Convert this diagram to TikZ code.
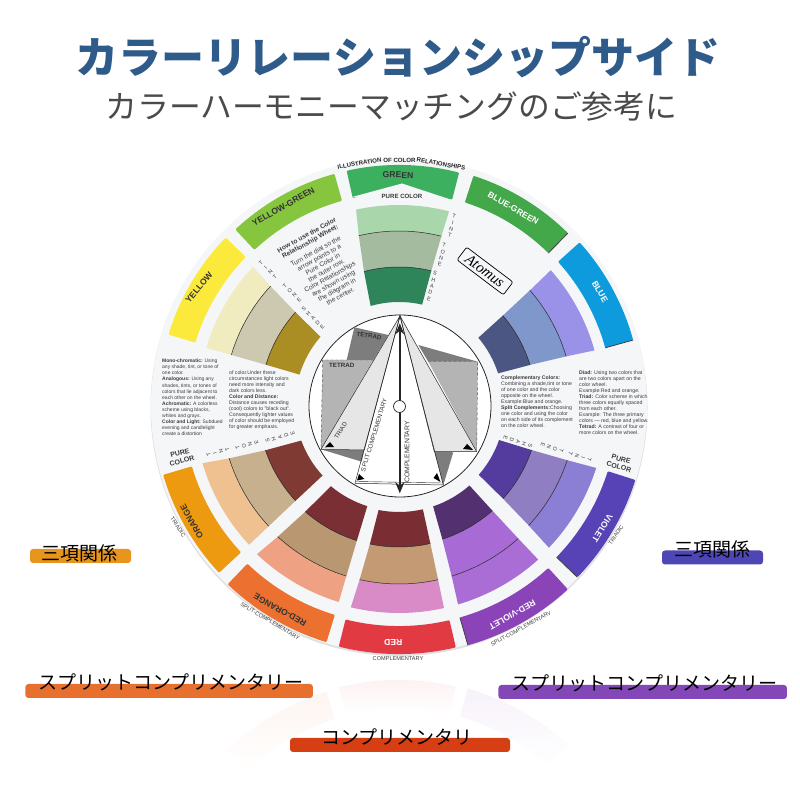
\documentclass[tikz,border=0pt]{standalone}
\usepackage{fontspec}
\setmainfont{Liberation Sans}
\newfontfamily\jpfont{Noto Sans CJK JP}
\newfontfamily\logofont{Liberation Serif}
\definecolor{titleblue}{RGB}{47, 91, 138}
\definecolor{titlegray}{RGB}{74, 74, 74}
\definecolor{disc}{RGB}{245, 246, 248}
\definecolor{discedge}{RGB}{222, 224, 228}
\definecolor{captext}{RGB}{60, 60, 60}
\definecolor{bgreen}{RGB}{61, 176, 96}
\definecolor{bbluegreen}{RGB}{67, 168, 74}
\definecolor{bblue}{RGB}{14, 155, 221}
\definecolor{byellowgreen}{RGB}{134, 198, 63}
\definecolor{byellow}{RGB}{251, 234, 60}
\definecolor{borange}{RGB}{238, 154, 16}
\definecolor{bredorange}{RGB}{236, 112, 48}
\definecolor{bred}{RGB}{226, 58, 66}
\definecolor{bredviolet}{RGB}{139, 67, 184}
\definecolor{bviolet}{RGB}{87, 67, 181}
\definecolor{gtint}{RGB}{169, 215, 171}
\definecolor{gtone}{RGB}{164, 187, 160}
\definecolor{gshade}{RGB}{47, 133, 90}
\definecolor{ytint}{RGB}{240, 236, 192}
\definecolor{ytone}{RGB}{204, 201, 176}
\definecolor{yshade}{RGB}{170, 142, 36}
\definecolor{btint}{RGB}{154, 146, 232}
\definecolor{btone}{RGB}{127, 151, 203}
\definecolor{bshade}{RGB}{76, 86, 130}
\definecolor{vtint}{RGB}{138, 127, 212}
\definecolor{vtone}{RGB}{143, 126, 194}
\definecolor{vshade}{RGB}{84, 60, 158}
\definecolor{rvtint}{RGB}{169, 109, 213}
\definecolor{rvtone}{RGB}{168, 107, 214}
\definecolor{rvshade}{RGB}{83, 48, 112}
\definecolor{rtint}{RGB}{216, 139, 198}
\definecolor{rtone}{RGB}{196, 154, 117}
\definecolor{rshade}{RGB}{122, 46, 51}
\definecolor{rotint}{RGB}{239, 162, 131}
\definecolor{rotone}{RGB}{185, 152, 113}
\definecolor{roshade}{RGB}{122, 47, 52}
\definecolor{otint}{RGB}{239, 193, 144}
\definecolor{otone}{RGB}{199, 176, 141}
\definecolor{oshade}{RGB}{127, 58, 51}
\definecolor{blade}{RGB}{230, 230, 230}
\definecolor{darkgray}{RGB}{125, 125, 125}
\definecolor{midgray}{RGB}{180, 180, 180}
\definecolor{pillorange}{RGB}{232, 149, 30}
\definecolor{pillblue}{RGB}{79, 70, 181}
\definecolor{pillred}{RGB}{232, 112, 47}
\definecolor{pillpurple}{RGB}{132, 71, 184}
\definecolor{pillcrimson}{RGB}{214, 63, 20}
\usetikzlibrary{arrows.meta,positioning}
\tikzset{
  bandlabel/.style={font=\fontsize{8.6}{10}\selectfont\bfseries, inner sep=0pt},
  outerlabel/.style={font=\fontsize{5.6}{7}\selectfont, text=captext, inner sep=0pt},
  rimlabel/.style={font=\fontsize{6.1}{8}\selectfont\bfseries, text=black!85, inner sep=0pt},
  purelabel/.style={font=\fontsize{7}{8}\selectfont\bfseries, text=captext, align=center, inner sep=0pt},
  sidelabel/.style={font=\fontsize{5.4}{6.5}\selectfont, text=captext, align=center, inner sep=0pt},
  smalltext/.style={font=\fontsize{5.2}{6}\selectfont, text=captext, align=left, anchor=north west, inner sep=0pt},
  hublabel/.style={font=\fontsize{6.2}{7}\selectfont, text=black!80, inner sep=0pt},
  pill/.style={rounded corners=3pt, minimum height=14pt, inner sep=0pt},
  pilltext/.style={font=\fontsize{19}{20}\selectfont\jpfont, text=black, inner sep=0pt}
}

\begin{document}
\begin{tikzpicture}[x=1pt, y=1pt]
    \useasboundingbox (0,0) rectangle (800,800);
    \fill[white] (0,0) rectangle (800,800);

    % faint reflection under the wheel
    \begin{scope}[shift={(399,-129)}, yscale=-1]
        \foreach \aa/\ab/\ra/\rb/\cc in {226.3/253/219.5/248/bredorange, 256/283.2/221/249/bred, -74/-47.5/221/250/bredviolet}{
            \shade[top color=\cc!7, bottom color=white] (\aa:\rb) arc[start angle=\aa, end angle=\ab, radius=\rb pt] -- (\ab:\ra) arc[start angle=\ab, end angle=\aa, radius=\ra pt] -- cycle;
        }
    \end{scope}

    \node[font=\fontsize{43}{46}\selectfont\jpfont\bfseries, text=titleblue, inner sep=0pt] (title) at (398,743) {カラーリレーションシップサイド};
    \node[font=\fontsize{31.8}{34}\selectfont\jpfont, text=titlegray, inner sep=0pt] (subtitle) at (391.5,694) {カラーハーモニーマッチングのご参考に};

    \fill[discedge] (399,392.5) circle (248.5pt);
    \fill[disc] (399,394) circle (248pt);

    \begin{scope}[shift={(399,395)}]
        % outer bands
        \foreach \aa/\ab/\ra/\rb/\cc in {
            75.5/102.6/212/240/bgreen,
            45.5/72/213/241/bbluegreen,
            15.5/42/214/243/bblue,
            105.6/133/212/240/byellowgreen,
            136/163/213/241/byellow,
            196.5/223/216/246/borange,
            226.3/253/219.5/248/bredorange,
            256/283.2/221/249/bred,
            -74/-47.5/221/250/bredviolet,
            -44/-17.6/219/248/bviolet}{
            \fill[\cc, rounded corners=1pt] (\aa:\rb) arc[start angle=\aa, end angle=\ab, radius=\rb pt] -- (\ab:\ra) arc[start angle=\ab, end angle=\aa, radius=\ra pt] -- cycle;
        }
        % dark cut edges of four bands
        \foreach \aa/\ra/\rb in {45.5/213/241, 15.5/214/243, -44/219/248, -74/221/250}{
            \draw[black!75, line width=.8pt] (\aa:\ra) -- (\aa:\rb);
        }
    \end{scope}

    % notch in the green band
    \fill[disc] (352,603) -- (402,616.5) -- (452,600) -- (400,597) -- cycle;

    \begin{scope}[shift={(399,395)}]
        % tint, tone and shade fans
        \foreach \aa/\ab/\ba/\bb/\ra/\rb/\rc/\rd/\ct/\cm/\cs in {
            75.5/102.4/77/106/200/174/138/103/gtint/gtone/gshade,
            136.6/163.5/139/163/201/175/139/104/ytint/ytone/yshade,
            15.6/41.6/17.7/40.3/203/174/137/104/btint/btone/bshade,
            196.5/223/200/222.7/205/178/141/104/otint/otone/oshade,
            226.4/253/230/252.6/206/179/142/106/rotint/rotone/roshade,
            256.6/282.5/259/282.9/208/179/142/107/rtint/rtone/rshade,
            -73.5/-48/-71.4/-48.8/208/179/141/107/rvtint/rvtone/rvshade,
            -43.6/-17.7/-41.2/-19.3/207/177/140/106/vtint/vtone/vshade}{
            \pgfmathsetmacro\aai{\aa+(\ba-\aa)*(\ra-\rb)/(\ra-\rd)}
            \pgfmathsetmacro\abi{\ab+(\bb-\ab)*(\ra-\rb)/(\ra-\rd)}
            \pgfmathsetmacro\aaj{\aa+(\ba-\aa)*(\ra-\rc)/(\ra-\rd)}
            \pgfmathsetmacro\abj{\ab+(\bb-\ab)*(\ra-\rc)/(\ra-\rd)}
            \fill[\ct] (\aa:\ra) arc[start angle=\aa, end angle=\ab, radius=\ra pt] -- (\abi:\rb) arc[start angle=\abi, end angle=\aai, radius=\rb pt] -- cycle;
            \fill[\cm] (\aai:\rb) arc[start angle=\aai, end angle=\abi, radius=\rb pt] -- (\abj:\rc) arc[start angle=\abj, end angle=\aaj, radius=\rc pt] -- cycle;
            \fill[\cs] (\aaj:\rc) arc[start angle=\aaj, end angle=\abj, radius=\rc pt] -- (\bb:\rd) arc[start angle=\bb, end angle=\ba, radius=\rd pt] -- cycle;
            \draw[black!85, line width=.5pt] (\aai:\rb) arc[start angle=\aai, end angle=\abi, radius=\rb pt];
            \draw[black!85, line width=.5pt] (\aaj:\rc) arc[start angle=\aaj, end angle=\abj, radius=\rc pt];
        }
    \end{scope}

    % band names
    \foreach \xx/\yy/\rr/\tc/\name in {
        398/625/-1/black!80/GREEN,
        283.3/593.3/29.5/black!80/YELLOW-GREEN,
        199/512.3/50/black!80/YELLOW,
        513.3/591.7/-30/white/BLUE-GREEN,
        600/508.3/-60/white/BLUE,
        602.3/271.7/-122/white/VIOLET,
        512.3/185/210/white/RED-VIOLET,
        393.3/157.7/180/white/RED,
        280/190/151/black!80/RED-ORANGE,
        191.7/278.3/119.5/black!80/ORANGE}{
        \node[bandlabel, text=\tc, rotate=\rr] at (\xx,\yy) {\name};
    }

    % words round the rim
    \node[rimlabel, rotate=9.3] (illusa) at (359.5,636.5) {ILLUSTRATION};
    \node[rimlabel] (illusb) at (399.5,640) {OF COLOR};
    \node[rimlabel, rotate=-10] (illusc) at (441,636) {RELATIONSHIPS};
    \node[font=\fontsize{6.1}{8}\selectfont\bfseries, text=captext, inner sep=0pt] (puregreen) at (402,604) {PURE COLOR};
    \node[purelabel, rotate=15] (pureorange) at (181,343) {PURE\\COLOR};
    \node[purelabel, rotate=-16] (pureviolet) at (620,337) {PURE\\COLOR};
    \node[outerlabel, rotate=-56] (triadicleft) at (178,273) {TRIADIC};
    \node[outerlabel, rotate=56] (triadicright) at (616,265) {TRIADIC};
    \node[outerlabel, rotate=-31] (splitleft) at (270,179) {SPLIT-COMPLEMENTARY};
    \node[outerlabel, rotate=28] (splitright) at (521,171.5) {SPLIT-COMPLEMENTARY};
    \node[outerlabel] (compl) at (398,141) {COMPLEMENTARY};

    % tint, tone, shade words
    \foreach \xx/\yy/\rr/\word in {
        452/574/-13/T\\I\\N\\T, 442/545/-13/T\\O\\N\\E, 432/514/-13/S\\H\\A\\D\\E,
        268/530/46/T\\I\\N\\T, 292/507/46/T\\O\\N\\E, 313/482/46/S\\H\\A\\D\\E,
        218/348/107/T\\I\\N\\T, 247/355/107/T\\O\\N\\E, 280/363/107/S\\H\\A\\D\\E,
        580/343/-108/T\\I\\N\\T, 552/352/-108/T\\O\\N\\E, 518/358/-108/S\\H\\A\\D\\E}{
        \node[sidelabel, rotate=\rr] at (\xx,\yy) {\word};
    }

    % how-to text
    \node[font=\fontsize{6.6}{7.3}\selectfont, text=captext, align=center, inner sep=0pt, rotate=29] (howto) at (323.5,534.5) {\textbf{How to use the Color}\\\textbf{Relationship Wheel:}\\[4pt]Turn the dial so the\\arrow points to a\\Pure Color in\\the outer row.\\Color Relationships\\are shown using\\the diagram in\\the center.};

    % logo
    \node[draw=black, rounded corners=2pt, line width=.7pt, rotate=-37, minimum width=58pt, minimum height=16pt, inner sep=0pt, font=\fontsize{15}{15}\selectfont\logofont\itshape] (logo) at (485,529) {Atomus};

    % notes
    \node[smalltext, font=\fontsize{5}{6.05}\selectfont] (monotext) at (162,441) {\textbf{Mono-chromatic:} Using\\any shade, tint, or tone of\\one color.\\\textbf{Analogous:} Using any\\shades, tints, or tones of\\colors that lie adjacent to\\each other on the wheel.\\\textbf{Achromatic:} A colorless\\scheme using blacks,\\whites and grays.\\\textbf{Color and Light:} Subdued\\evening and candlelight\\create a distortion};
    \node[smalltext] (distancetext) at (229,429) {of color.Under these\\circumstances light colors\\need more intensity and\\dark colors less.\\\textbf{Color and Distance:}\\Distance causes receding\\(cool) colors to "black out".\\Consequently lighter values\\of color should be employed\\for greater emphasis.};
    \node[smalltext] (compltext) at (501,424) {\textbf{Complementary Colors:}\\Combining a shade,tint or tone\\of one color and the color\\opposite on the wheel.\\Example:Blue and orange.\\\textbf{Split Complements:}Choosing\\one color and using the color\\on each side of its complement\\on the color wheel.};
    \node[smalltext] (diadtext) at (579,429) {\textbf{Diad:} Using two colors that\\are two colors apart on the\\color wheel.\\Example:Red and orange.\\\textbf{Triad:} Color scheme in which\\three colors equally spaced\\from each other.\\Example: The three primary\\colors — red, blue and yellow.\\\textbf{Tetrad:} A contrast of four or\\more colors on the wheel.};

    % center dial
    \node[circle, draw=black!85, fill=white, line width=.8pt, minimum size=182pt, inner sep=0pt] (dial) at (400,394) {};
    \coordinate (apex) at (400,484);
    \coordinate (triadl) at (321,350.7);
    \coordinate (triadr) at (476.7,348.3);
    \coordinate (splitl) at (355,316.7);
    \coordinate (splitr) at (443.3,315);
    \coordinate (bladel) at (364.3,350);
    \coordinate (blader) at (434.3,348.3);
    \fill[midgray] (322.7,440) -- (373.3,440) -- (triadl) -- cycle;
    \draw[black!70, densely dashed, line width=.4pt] (373.3,440) -- (322.7,440) -- (triadl);
    \fill[darkgray] (354.3,472.7) -- (388.3,465) -- (373.3,440) -- (346.7,440) -- cycle;
    \fill[midgray] (428.3,438.3) -- (477.7,438.3) -- (triadr) -- cycle;
    \draw[black!70, densely dashed, line width=.4pt] (428.3,438.3) -- (477.7,438.3) -- (triadr);
    \fill[darkgray] (418.3,455) -- (477.7,438.3) -- (428.3,438.3) -- cycle;
    \fill[darkgray] (triadl) -- (bladel) -- (361.7,338.3) -- cycle;
    \fill[darkgray] (blader) -- (453.3,347.7) -- (splitr) -- cycle;
    \draw[black!85, fill=blade, line width=.5pt] (apex) -- (triadl) -- (bladel) -- cycle;
    \draw[black!85, fill=blade, line width=.5pt] (apex) -- (triadr) -- (blader) -- cycle;
    \draw[black!85, line width=.5pt] (apex) -- (splitl) -- (splitr) -- cycle;
    \draw[black!85, line width=.4pt] (356,318.5) -- (442.3,317);
    \fill[black] (325,352.7) -- (330,358) -- (334,353) -- cycle;
    \fill[black] (473,350) -- (467,356) -- (463,351) -- cycle;
    \fill[black] (357,319.5) -- (359,326) -- (364.5,321) -- cycle;
    \fill[black] (440.5,318) -- (433.5,322) -- (437,327) -- cycle;
    \node[hublabel, font=\fontsize{6.2}{7}\selectfont\bfseries, rotate=-8] (tetrada) at (369,464) {TETRAD};
    \node[hublabel, font=\fontsize{6.2}{7}\selectfont\bfseries] (tetradb) at (341.7,434.3) {TETRAD};
    \node[hublabel, rotate=58] (triadtext) at (340.7,369.3) {TRIAD};
    \node[hublabel, font=\fontsize{6.3}{7}\selectfont, rotate=73] (splittext) at (374,365) {SPLIT COMPLEMENTARY};
    \node[hublabel, font=\fontsize{6.8}{7}\selectfont, rotate=90] (compltext2) at (407,348) {COMPLEMENTARY};
    \coordinate (armtop) at (399.8,476.7);
    \coordinate (armbot) at (399.8,306.7);
    \draw[{Stealth[length=11pt,width=9pt]}-{Stealth[length=11pt,width=9pt]}, black!85, line width=1.8pt] (armbot) -- (armtop);
    \node[circle, draw=black!85, fill=white, line width=.7pt, minimum size=12pt, inner sep=0pt] (hub) at (399.5,393.5) {};

    % colored tags
    \node[pill, fill=pillorange, minimum width=101pt] (taga) at (80.5,244) {};
    \node[pill, fill=pillblue, minimum width=101pt] (tagb) at (712.5,242.5) {};
    \node[pill, fill=pillred, minimum width=287.5pt] (tagc) at (169.2,109) {};
    \node[pill, fill=pillpurple, minimum width=288.5pt] (tagd) at (642.7,108) {};
    \node[pill, fill=pillcrimson, minimum width=220pt] (tage) at (400,55) {};
    \node[pilltext] (texta) at (79,247) {三項関係};
    \node[pilltext] (textb) at (712,251) {三項関係};
    \node[pilltext] (textc) at (171,118) {スプリットコンプリメンタリー};
    \node[pilltext] (textd) at (644.5,117) {スプリットコンプリメンタリー};
    \node[pilltext] (texte) at (397,63) {コンプリメンタリ};
\end{tikzpicture}
\end{document}
